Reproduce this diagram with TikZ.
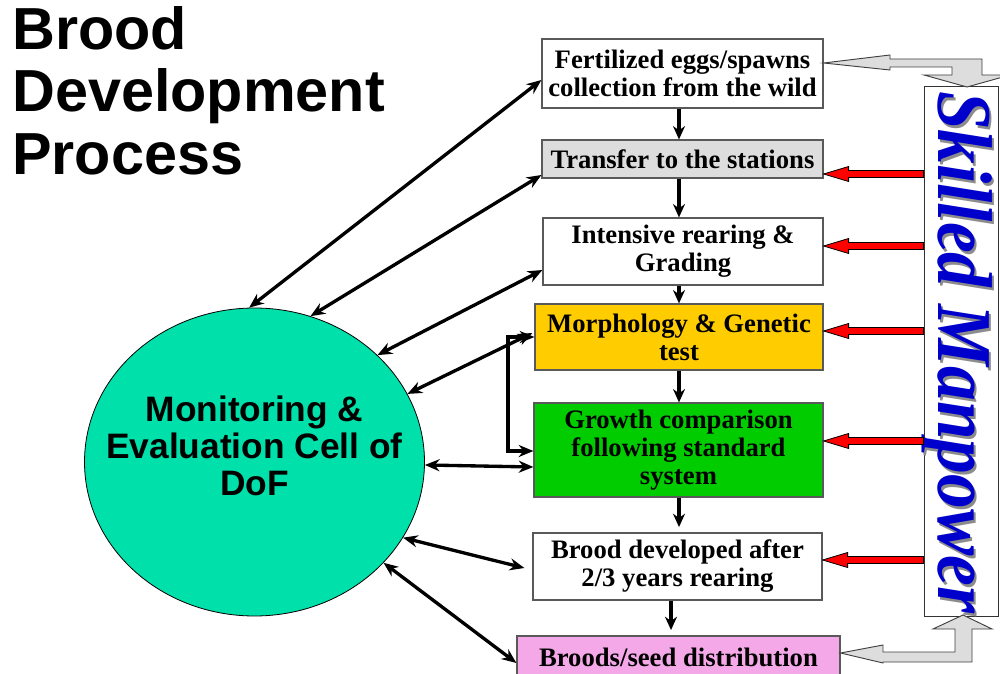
\documentclass[tikz,border=0pt]{standalone}
\usepackage{fontspec}
\setmainfont{Liberation Serif}
\setsansfont{Liberation Sans}
\usetikzlibrary{arrows.meta,calc,shapes.geometric}

\definecolor{boxgray}{HTML}{DDDDDD}
\definecolor{morphyellow}{HTML}{FFCC00}
\definecolor{growgreen}{HTML}{00CC00}
\definecolor{distpink}{HTML}{F4A8E8}
\definecolor{mecgreen}{HTML}{00E0AA}
\definecolor{skillblue}{HTML}{0000CC}
\definecolor{bentgray}{HTML}{DDDDDD}

% red block arrow from the manpower column into a process box at height #2
\newcommand\mpower[2]{%
  \coordinate (tip) at (#1.east |- 0,#2);
  \coordinate (tail) at (skill.west |- 0,#2);
  \filldraw[mpstyle] (tip) -- ($(tip)+(25,-7.5)$) -- ($(tip)+(25,-3.5)$)
    -- ($(tail)+(0,-3.5)$) -- ($(tail)+(0,3.5)$) -- ($(tip)+(25,3.5)$)
    -- ($(tip)+(25,7.5)$) -- cycle;}

\begin{document}
\begin{tikzpicture}[x=0.75pt,y=-0.75pt,
  proc/.style={draw=black!65, line width=0.9pt, align=center, inner sep=0pt,
    font=\bfseries\fontsize{20}{21}\selectfont},
  link/.style={line width=2.5pt,
    {Stealth[length=11pt,width=9pt]}-{Stealth[length=11pt,width=9pt]}},
  flow/.style={line width=2.5pt, -{Stealth[length=10pt,width=9pt]}},
  mpstyle/.style={fill=red, draw=black, line width=0.6pt},
  bent/.style={fill=bentgray, draw=black!75, line width=0.7pt},
  ttl/.style={anchor=base west, inner sep=0pt,
    font=\sffamily\bfseries\fontsize{44.5}{46.5}\selectfont},
  wordart/.style={rotate=-90, inner sep=0pt,
    font=\bfseries\itshape\fontsize{52}{52}\selectfont}]
\useasboundingbox (0,0) rectangle (1000,674);

% title
\node[ttl] (t1) at (12,50) {Brood};
\node[ttl] (t2) at (12,112) {Development};
\node[ttl] (t3) at (12,174) {Process};

% monitoring cell
\node[ellipse, draw=black, line width=0.6pt, fill=mecgreen, inner sep=0pt,
  minimum width=255pt, minimum height=231pt] (mec) at (254.5,462) {};
\node[align=center, inner sep=0pt,
  font=\sffamily\bfseries\fontsize{26.5}{28}\selectfont] (mectext) at (254.5,446)
  {Monitoring \&\\Evaluation Cell of\\DoF};

% process boxes
\node[proc, fill=white, minimum width=210.75pt, minimum height=51.75pt] (b1) at (682.5,73.5)
  {Fertilized eggs/spawns\\collection from the wild};
\node[proc, fill=boxgray, minimum width=210.75pt, minimum height=28.5pt] (b2) at (682.5,159)
  {Transfer to the stations};
\node[proc, fill=white, minimum width=210pt, minimum height=50.25pt] (b3) at (683,251.5)
  {Intensive rearing \&\\Grading};
\node[proc, fill=morphyellow, minimum width=216pt, minimum height=49.5pt] (b4) at (679,337)
  {Morphology \& Genetic\\test};
\node[proc, fill=growgreen, minimum width=216.75pt, minimum height=70.5pt] (b5) at (678.5,450)
  {Growth comparison\\following standard\\system};
\node[proc, fill=white, minimum width=216.75pt, minimum height=50.25pt] (b6) at (677.5,566.5)
  {Brood developed after\\2/3 years rearing};
\node[proc, fill=distpink, minimum width=242.25pt, minimum height=31.5pt] (b7) at (678.5,657)
  {Broods/seed distribution};

% skilled manpower column
\node[draw=black!80, line width=0.7pt, fill=white, minimum width=55.5pt,
  minimum height=397.5pt, inner sep=0pt] (skill) at (961,351) {};
\node[wordart, text=black!45] (skillshadow) at (959.5,355)
  {\scalebox{1}[1.12]{Skilled Manpower}};
\node[wordart, text=skillblue] (skilltext) at (957,352)
  {\scalebox{1}[1.12]{Skilled Manpower}};

% bent arrows linking the column with the first and last stage
\filldraw[bent] (b1.east |- 0,63) -- (890,55) -- (890,59) -- (982,59) -- (982,75)
  -- (1010,75) -- (967,87) -- (924,75) -- (952,75) -- (952,67) -- (890,67)
  -- (890,70) -- cycle;
\filldraw[bent] (b7.east |- 0,653) -- (883,645) -- (883,652) -- (955,652) -- (955,629)
  -- (933,629) -- (963,615) -- (992,629) -- (972,629) -- (972,662) -- (883,662)
  -- (883,663) -- cycle;

% manpower inputs
\mpower{b2}{174}
\mpower{b3}{246}
\mpower{b4}{331}
\mpower{b5}{441}
\mpower{b6}{560}

% process flow
\coordinate (col) at (679,0);
\coordinate (col2) at (671,0);
\draw[flow] (b1.south -| col) -- (b2.north -| col);
\draw[flow] (b2.south -| col) -- (b3.north -| col);
\draw[flow] (b3.south -| col) -- (b4.north -| col);
\draw[flow] (b4.south -| col) -- (b5.north -| col);
\draw[flow, shorten >=4pt] (b5.south -| col) -- (b6.north -| col);
\draw[flow, shorten >=4pt] (b6.south -| col2) -- (b7.north -| col2);

% monitoring links
\draw[link] (mec.92.4) -- ($(b1.west)+(0,6.5)$);
\draw[link] (mec.69.3) -- ($(b2.west)+(0,16)$);
\draw[link] (mec.41.6) -- ($(b3.west)+(0,18.5)$);
\draw[link] (mec.24.2) -- ($(b4.west)+(-2,-4)$);
\draw[link] (mec.-1.7) -- ($(b5.west)+(0,17)$);
\draw[link] (mec.-27.3) -- ($(b6.west)+(-8,1.5)$);
\draw[link] (mec.-38.2) -- ($(b7.west)+(0,6)$);

% feedback between morphology test and growth comparison
\coordinate (brk) at (508,0);
\coordinate (b5in) at ($(b5.west)+(0,1)$);
\draw[link] (b4.west) -- (b4.west -| brk) -- (brk |- b5in) -- (b5in);
\end{tikzpicture}
\end{document}
